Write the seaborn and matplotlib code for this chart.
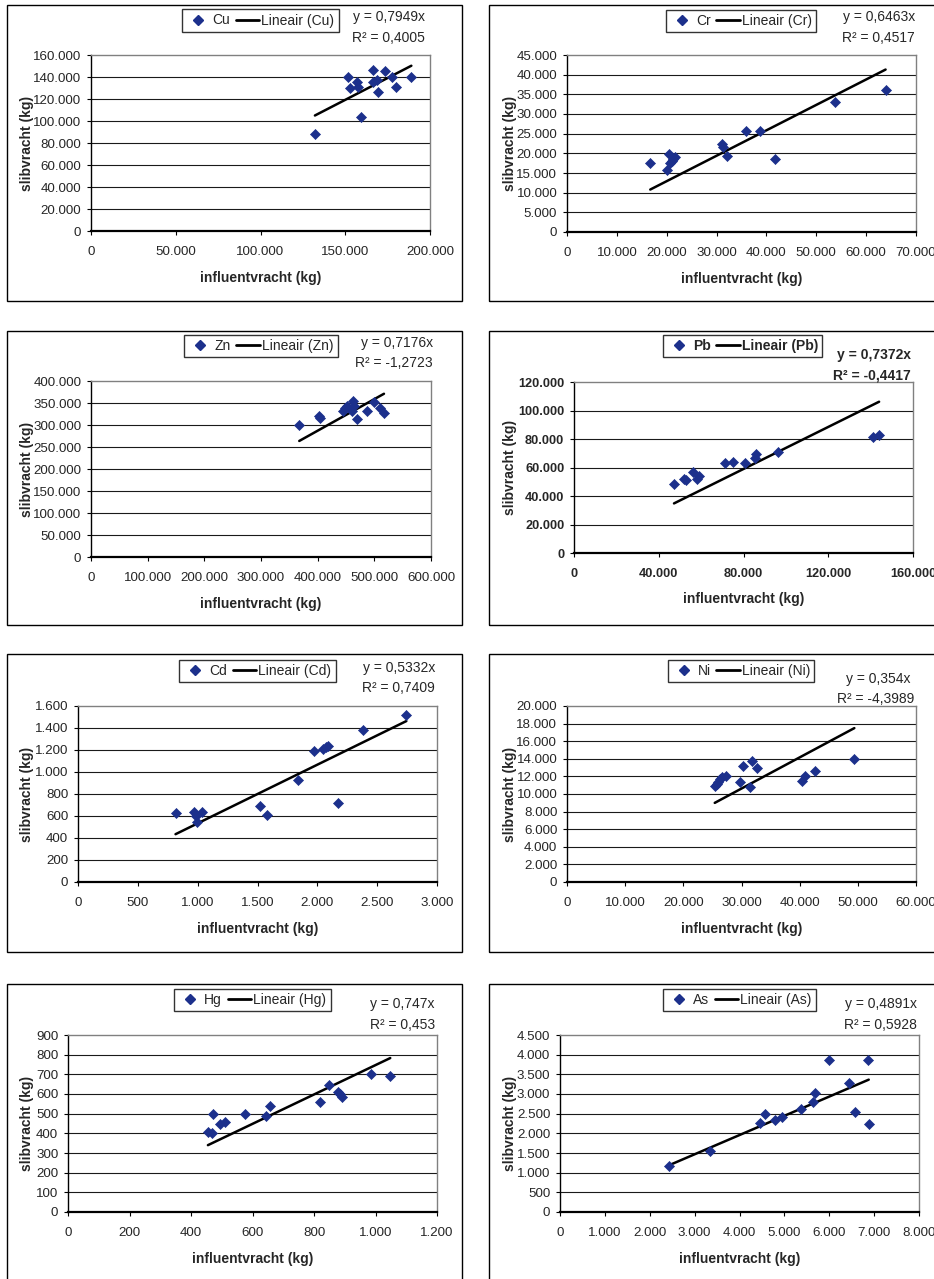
import matplotlib
matplotlib.use('Agg')
import matplotlib.pyplot as plt
import seaborn as sns
import pandas as pd
from matplotlib.lines import Line2D
from matplotlib.patches import Rectangle
from matplotlib.ticker import FuncFormatter, MultipleLocator

# influentvracht (x) vs slibvracht (y), kg
cu_x = [132100, 151800, 152600, 157100, 157700, 159400, 166300, 166500, 168700, 169100, 173600, 177400, 179900, 189000]
cu_y = [88300, 140000, 130200, 135100, 130500, 103500, 146600, 135400, 137500, 126300, 145100, 140000, 130500, 140000]

cr_x = [16700, 20000, 20500, 20600, 21000, 21300, 21600, 31000, 31300, 32100, 35900, 38700, 41700, 53800, 63900]
cr_y = [17500, 15800, 19900, 17500, 18000, 18500, 19000, 22400, 21600, 19300, 25800, 25600, 18600, 33100, 36200]

zn_x = [367500, 402200, 404000, 445200, 448800, 451700, 462300, 460000, 464700, 469400, 487000, 498800, 509400, 517000]
zn_y = [301000, 320600, 316800, 331200, 338000, 344000, 355400, 331200, 343300, 313000, 332000, 353000, 338800, 326700]

pb_x = [47200, 51800, 52700, 56200, 58200, 59200, 71300, 74900, 80600, 85300, 85700, 96300, 141300, 144000]
pb_y = [48600, 51800, 51100, 56700, 51600, 53900, 63000, 64000, 63000, 66800, 69600, 70700, 81500, 82900]

cd_x = [815, 969, 985, 996, 1038, 1522, 1581, 1842, 1973, 2046, 2071, 2093, 2174, 2380, 2744]
cd_y = [626, 632, 596, 541, 632, 693, 608, 926, 1195, 1213, 1228, 1240, 717, 1379, 1518]

ni_x = [25400, 25800, 26000, 26300, 26700, 27400, 29800, 30200, 31500, 31800, 32600, 40400, 40900, 42600, 49400]
ni_y = [10900, 11100, 11400, 11700, 11900, 12000, 11400, 13200, 10850, 13700, 13000, 11500, 12000, 12600, 13950]

hg_x = [455, 469, 470, 493, 509, 575, 643, 657, 821, 850, 879, 885, 891, 984, 1048]
hg_y = [405, 403, 497, 449, 456, 498, 490, 539, 558, 648, 609, 601, 585, 703, 691]

as_x = [2429, 3336, 4458, 4569, 4785, 4941, 5379, 5631, 5676, 5996, 6441, 6575, 6872, 6880]
as_y = [1174, 1540, 2254, 2492, 2339, 2407, 2611, 2790, 3020, 3862, 3275, 2552, 3862, 2237]

metals = ['Cu', 'Cr', 'Zn', 'Pb', 'Cd', 'Ni', 'Hg', 'As']
slopes = [0.7949, 0.6463, 0.7176, 0.7372, 0.5332, 0.354, 0.747, 0.4891]
slope_text = ['0,7949', '0,6463', '0,7176', '0,7372', '0,5332', '0,354', '0,747', '0,4891']
r2_text = ['0,4005', '0,4517', '-1,2723', '-0,4417', '0,7409', '-4,3989', '0,453', '0,5928']
x_data = [cu_x, cr_x, zn_x, pb_x, cd_x, ni_x, hg_x, as_x]
y_data = [cu_y, cr_y, zn_y, pb_y, cd_y, ni_y, hg_y, as_y]

# axis ranges: (xmax, xstep, ymax, ystep)
ranges = [(200000, 50000, 160000, 20000), (70000, 10000, 45000, 5000),
          (600000, 100000, 400000, 50000), (160000, 40000, 120000, 20000),
          (3000, 500, 1600, 200), (60000, 10000, 20000, 2000),
          (1200, 200, 900, 100), (8000, 1000, 4500, 500)]

# layout in pixels
W, H = 934, 1279
axes_px = [(91, 55, 430, 231), (567, 55, 916, 232), (91, 381, 431, 557), (574, 382, 913, 553),
           (78, 706, 437, 882), (567, 706, 916, 882), (68, 1035, 437, 1212), (560, 1035, 919, 1212)]
legend_px = [(260.5, 20.5), (741, 21), (261, 346), (742.5, 346),
             (257.5, 671), (741, 671), (252.5, 1000), (739.5, 1000)]
eq_px = [(425, 17, 38), (915, 17, 38), (433, 343, 363), (911, 355, 375),
         (435, 668, 688), (910, 679, 699), (435, 1004, 1025), (917, 1004, 1025)]
cols = [(7, 462), (489, 960)]
rows = [(5, 301), (331, 625), (654, 952), (984, 1300)]

sns.set_style('white')
plt.rcParams['font.family'] = ['Liberation Sans Narrow', 'Liberation Sans', 'DejaVu Sans']
NARROW = ['Liberation Sans Narrow', 'Liberation Sans']
WIDE = ['Liberation Sans', 'DejaVu Sans']
BLUE = '#1c308c'

fig = plt.figure(figsize=(W / 100, H / 100), dpi=100)

def dutch(v, pos):
    return f'{v:,.0f}'.replace(',', '.')

for i, metal in enumerate(metals):
    r, c = divmod(i, 2)
    x0, x1 = cols[c]
    y0, y1 = rows[r]
    fig.patches.append(Rectangle((x0 / W, 1 - y1 / H), (x1 - x0) / W, (y1 - y0) / H,
                                 transform=fig.transFigure, fill=False,
                                 edgecolor='black', lw=1.0))

    l, t, rr, b = axes_px[i]
    ax = fig.add_axes([l / W, 1 - b / H, (rr - l) / W, (b - t) / H])
    bold = metal == 'Pb'
    weight = 'bold' if bold else 'normal'

    xmax, xstep, ymax, ystep = ranges[i]
    df = pd.DataFrame({'x': x_data[i], 'y': y_data[i]})
    xs = [df['x'].min(), df['x'].max()]
    fit = pd.DataFrame({'x': xs, 'y': [slopes[i] * v for v in xs]})

    for yv in range(ystep, ymax, ystep):
        ax.axhline(yv, color='#1a1a1a', lw=0.8, zorder=1)
    sns.lineplot(data=fit, x='x', y='y', color='black', lw=1.8, ax=ax, zorder=3)
    sns.scatterplot(data=df, x='x', y='y', marker='D', color=BLUE, edgecolor=BLUE,
                    s=26, linewidth=0.5, ax=ax, zorder=4, legend=False)

    ax.set_xlim(0, xmax)
    ax.set_ylim(0, ymax)
    ax.xaxis.set_major_locator(MultipleLocator(xstep))
    ax.yaxis.set_major_locator(MultipleLocator(ystep))
    ax.xaxis.set_major_formatter(FuncFormatter(dutch))
    ax.yaxis.set_major_formatter(FuncFormatter(dutch))
    ax.tick_params(axis='both', direction='out', length=3, width=0.8, color='black',
                   labelsize=9.2 if bold else 9.6, bottom=True, left=True)
    ax.tick_params(axis='x', pad=8)
    ax.tick_params(axis='y', pad=4)
    for lab in ax.get_xticklabels() + ax.get_yticklabels():
        lab.set_family(NARROW)
        lab.set_fontweight(weight)

    for side in ['top', 'right']:
        ax.spines[side].set_color('#808080')
        ax.spines[side].set_linewidth(1.0)
    ax.spines['left'].set_color('black')
    ax.spines['left'].set_linewidth(1.0)
    ax.spines['bottom'].set_color('black')
    ax.spines['bottom'].set_linewidth(1.6)

    ax.set_xlabel('influentvracht (kg)', fontsize=10, fontweight='bold', family=NARROW)
    ax.xaxis.set_label_coords(0.5, -(271 - 231) / (231 - 55))
    ax.set_ylabel('slibvracht (kg)', fontsize=10, fontweight='bold', family=WIDE)
    ylab_x = 34 if c == 0 else 517
    ax.yaxis.set_label_coords((ylab_x - l) / (rr - l), 0.5)

    handles = [Line2D([], [], marker='D', color=BLUE, linestyle='none', markersize=5),
               Line2D([], [], color='black', lw=2)]
    lx, ly = legend_px[i]
    leg = ax.legend(handles, [metal, f'Lineair ({metal})'], ncol=2, loc='center',
                    bbox_to_anchor=(lx / W, 1 - ly / H), bbox_transform=fig.transFigure,
                    frameon=True, fancybox=False, shadow=False, handlelength=1.7,
                    handletextpad=0.15, columnspacing=0.4, borderpad=0.3,
                    prop={'family': NARROW, 'size': 10, 'weight': weight})
    leg.get_frame().set_edgecolor('black')
    leg.get_frame().set_linewidth(1.0)

    ex, ey1, ey2 = eq_px[i]
    fig.text(ex / W, 1 - ey1 / H, f'y = {slope_text[i]}x', ha='right', va='center',
             fontsize=10, fontweight=weight, family=NARROW)
    fig.text(ex / W + (4 / W if metal == 'Ni' else 0), 1 - ey2 / H, f'R² = {r2_text[i]}',
             ha='right', va='center', fontsize=10, fontweight=weight, family=NARROW)

fig.savefig('out.png', dpi=100, facecolor='white')
